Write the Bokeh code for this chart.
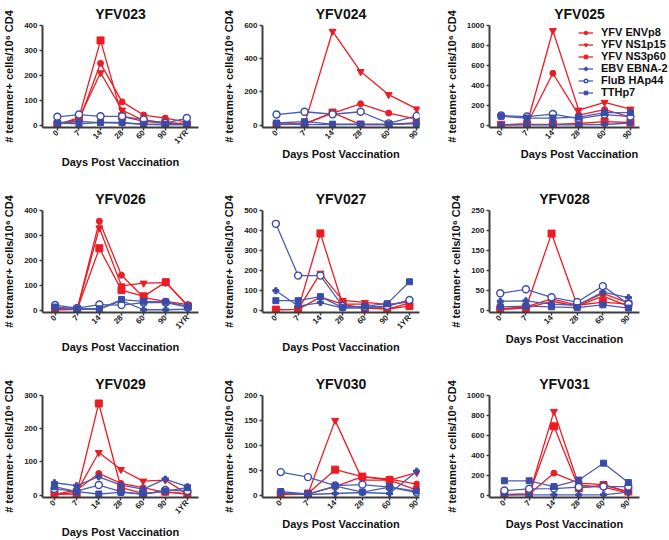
import numpy as np
from bokeh.plotting import figure
from bokeh.layouts import column, row
from bokeh.models import FixedTicker, Legend, LegendItem, Range1d
from bokeh.embed import file_html
from bokeh.resources import INLINE

# ---------------- data ----------------
days_long = ["0", "7", "14", "28", "60", "90", "1YR"]
days_short = ["0", "7", "14", "28", "60", "90"]
series_names = ["YFV ENVp8", "YFV NS1p15", "YFV NS3p60", "EBV EBNA-2", "FluB HAp44", "TTHp7"]

donors = ["YFV023", "YFV024", "YFV025", "YFV026", "YFV027", "YFV028", "YFV029", "YFV030", "YFV031"]
y_max = [400, 600, 1000, 400, 500, 250, 300, 200, 1000]
y_step = [100, 200, 200, 100, 100, 50, 100, 50, 200]

yfv023_env = [5, 15, 248, 93, 40, 28, 12]
yfv023_ns1 = [2, 25, 210, 60, 18, 10, 5]
yfv023_ns3 = [2, 30, 340, 35, 15, 8, 3]
yfv023_ebv = [10, 15, 10, 8, 3, 2, 2]
yfv023_flu = [33, 42, 35, 35, 22, 8, 28]
yfv023_tt = [8, 5, 10, 10, 3, 2, 2]

yfv024_env = [3, 8, 72, 128, 72, 35]
yfv024_ns1 = [5, 5, 565, 322, 183, 97]
yfv024_ns3 = [2, 5, 75, 2, 3, 15]
yfv024_ebv = [5, 3, 2, 3, 2, 8]
yfv024_flu = [63, 80, 65, 80, 10, 55]
yfv024_tt = [12, 20, 5, 5, 5, 10]

yfv025_env = [2, 8, 520, 100, 155, 80]
yfv025_ns1 = [2, 10, 950, 150, 228, 160]
yfv025_ns3 = [2, 5, 5, 15, 35, 25]
yfv025_ebv = [2, 2, 2, 2, 5, 20]
yfv025_flu = [95, 85, 110, 65, 105, 85]
yfv025_tt = [88, 70, 70, 80, 125, 125]

yfv026_env = [2, 3, 357, 140, 50, 35, 22]
yfv026_ns1 = [2, 3, 330, 97, 108, 110, 18]
yfv026_ns3 = [2, 3, 248, 80, 55, 112, 15]
yfv026_ebv = [8, 3, 3, 38, 1, 1, 3]
yfv026_flu = [20, 8, 22, 20, 30, 30, 12]
yfv026_tt = [12, 5, 5, 42, 35, 33, 15]

yfv027_env = [2, 3, 65, 30, 30, 5, 35]
yfv027_ns1 = [2, 3, 185, 48, 38, 28, 40]
yfv027_ns3 = [2, 3, 385, 28, 10, 5, 20]
yfv027_ebv = [97, 20, 37, 10, 10, 20, 50]
yfv027_flu = [433, 173, 173, 20, 15, 20, 50]
yfv027_tt = [47, 47, 67, 12, 20, 32, 142]

yfv028_env = [3, 8, 28, 12, 42, 18]
yfv028_ns1 = [2, 5, 22, 10, 35, 10]
yfv028_ns3 = [2, 5, 192, 12, 20, 15]
yfv028_ebv = [22, 23, 15, 12, 45, 31]
yfv028_flu = [42, 52, 32, 20, 60, 15]
yfv028_tt = [8, 10, 8, 6, 13, 5]

yfv029_env = [2, 15, 65, 35, 22, 8, 5]
yfv029_ns1 = [2, 8, 128, 77, 42, 45, 3]
yfv029_ns3 = [2, 3, 276, 22, 5, 10, 2]
yfv029_ebv = [37, 28, 55, 30, 18, 48, 25]
yfv029_flu = [18, 12, 30, 10, 2, 15, 12]
yfv029_tt = [25, 10, 3, 8, 3, 12, 22]

yfv030_env = [2, 2, 17, 37, 32, 22]
yfv030_ns1 = [2, 2, 150, 30, 30, 45]
yfv030_ns3 = [2, 3, 51, 37, 30, 10]
yfv030_ebv = [5, 1, 3, 5, 3, 48]
yfv030_flu = [46, 36, 19, 21, 16, 5]
yfv030_tt = [7, 2, 18, 6, 16, 8]

yfv031_env = [2, 8, 220, 120, 105, 30]
yfv031_ns1 = [3, 5, 840, 100, 80, 20]
yfv031_ns3 = [5, 10, 690, 70, 100, 35]
yfv031_ebv = [2, 2, 2, 2, 2, 30]
yfv031_flu = [45, 62, 65, 80, 85, 85]
yfv031_tt = [143, 143, 85, 150, 320, 125]

panel_data = [
    (days_long, [yfv023_env, yfv023_ns1, yfv023_ns3, yfv023_ebv, yfv023_flu, yfv023_tt]),
    (days_short, [yfv024_env, yfv024_ns1, yfv024_ns3, yfv024_ebv, yfv024_flu, yfv024_tt]),
    (days_short, [yfv025_env, yfv025_ns1, yfv025_ns3, yfv025_ebv, yfv025_flu, yfv025_tt]),
    (days_long, [yfv026_env, yfv026_ns1, yfv026_ns3, yfv026_ebv, yfv026_flu, yfv026_tt]),
    (days_long, [yfv027_env, yfv027_ns1, yfv027_ns3, yfv027_ebv, yfv027_flu, yfv027_tt]),
    (days_short, [yfv028_env, yfv028_ns1, yfv028_ns3, yfv028_ebv, yfv028_flu, yfv028_tt]),
    (days_long, [yfv029_env, yfv029_ns1, yfv029_ns3, yfv029_ebv, yfv029_flu, yfv029_tt]),
    (days_short, [yfv030_env, yfv030_ns1, yfv030_ns3, yfv030_ebv, yfv030_flu, yfv030_tt]),
    (days_short, [yfv031_env, yfv031_ns1, yfv031_ns3, yfv031_ebv, yfv031_flu, yfv031_tt]),
]

# ---------------- style / layout ----------------
FONT = "Liberation Sans"
RED = "#EC1C24"
BLUE = "#3A4CA8"
BLUE_LINE = "#4A5DB5"
AXIS = "#3C3C3C"

styles = [
    dict(marker="circle", size=6, color=RED, fill=RED, lc=RED),
    dict(marker="inverted_triangle", size=7, color=RED, fill=RED, lc=RED),
    dict(marker="square", size=7, color=RED, fill=RED, lc=RED),
    dict(marker="plus", size=6, color=BLUE, fill=BLUE, lc=BLUE_LINE),
    dict(marker="circle", size=7, color=BLUE, fill="white", lc=BLUE_LINE),
    dict(marker="square", size=6, color=BLUE, fill=BLUE, lc=BLUE_LINE),
]

col_w = [220, 220, 229]
col_left = [42, 42, 49]
col_frame = [156, 157, 150]
row_h = [185, 185, 170]
TOP = 24
FRAME_H = 103
x_pads = [(0.69, 0.54), (0.5, 0.1), (0.45, 0.35),
          (0.57, 0.48), (0.6, 0.45), (0.42, 0.43),
          (0.54, 0.5), (0.67, 0.1), (0.6, 0.45)]
LEGEND_PANEL = 2

figs = []
for i, name in enumerate(donors):
    r, c = divmod(i, 3)
    labels, vals = panel_data[i]
    n = len(labels)
    xs = list(range(n))
    pl, pr = x_pads[i]
    ymax = y_max[i]
    H = row_h[r]
    x_lo, x_hi = -pl, n - 1 + pr
    frame_w = col_frame[c]
    right_border = col_w[c] - col_left[c] - frame_w
    x_end = x_hi
    if i == LEGEND_PANEL:
        # widen the frame so the legend (which overhangs the axis) is not clipped
        full_w = col_w[c] - col_left[c]
        x_end = x_lo + (x_hi - x_lo) * full_w / frame_w
        right_border = 0
    p = figure(width=col_w[c], height=H, output_backend="svg", toolbar_location=None,
               x_range=Range1d(x_lo, x_end), y_range=Range1d(-0.025 * ymax, ymax),
               min_border_left=col_left[c], min_border_top=TOP,
               min_border_bottom=H - TOP - FRAME_H,
               min_border_right=right_border,
               title=name)
    p.title.text_font = FONT
    p.title.text_font_size = "14px"
    p.title.text_font_style = "bold"
    p.title.text_color = "#111111"
    p.title.align = "center"
    p.title.standoff = 7
    p.title.offset = 0
    p.outline_line_color = None
    p.xgrid.visible = False
    p.ygrid.visible = False
    p.background_fill_color = "white"
    p.border_fill_color = "white"

    for ax in (p.xaxis[0], p.yaxis[0]):
        ax.axis_line_color = AXIS
        ax.axis_line_width = 2
        ax.major_tick_line_color = AXIS
        ax.major_tick_line_width = 1.5
        ax.major_tick_in = 0
        ax.major_tick_out = 3
        ax.minor_tick_line_color = None
        ax.major_label_text_font = FONT
        ax.major_label_text_font_size = "8px"
        ax.major_label_text_font_style = "bold"
        ax.major_label_text_color = "#222222"
        ax.major_label_standoff = 2
        ax.axis_label_text_font = FONT
        ax.axis_label_text_font_size = "11px"
        ax.axis_label_text_font_style = "bold"
        ax.axis_label_text_color = "#111111"
        ax.axis_label_standoff = 6
    p.xaxis.bounds = (x_lo, x_hi)
    p.yaxis.ticker = FixedTicker(ticks=list(range(0, ymax + 1, y_step[i])))
    p.xaxis.ticker = FixedTicker(ticks=xs)
    p.xaxis.major_label_overrides = {k: lab for k, lab in enumerate(labels)}
    p.xaxis.major_label_orientation = np.pi / 4
    p.xaxis.major_label_standoff = 1
    p.xaxis.axis_label = "Days Post Vaccination"
    p.xaxis.axis_label_standoff = 4
    p.yaxis.axis_label = "# tetramer+ cells/10\u2076 CD4"

    items = []
    for s, (st, ys) in enumerate(zip(styles, vals)):
        lr = p.line(xs, ys, line_color=st["lc"], line_width=1.3)
        sr = p.scatter(xs, ys, marker=st["marker"], size=st["size"],
                       line_color=st["color"], fill_color=st["fill"],
                       line_width=1.4 if st["fill"] == "white" else 1)
        items.append(LegendItem(label=series_names[s], renderers=[lr, sr]))
    if i == LEGEND_PANEL:
        leg = Legend(items=items, location=(89, 29), padding=0, margin=0, spacing=0,
                     glyph_width=15, glyph_height=9, label_height=9, label_standoff=8,
                     label_text_font=FONT, label_text_font_size="11px",
                     label_text_line_height=0.8,
                     label_text_font_style="bold", label_text_color="#111111",
                     background_fill_alpha=0, border_line_color=None)
        p.add_layout(leg)
    figs.append(p)

layout = column(row(*figs[0:3], spacing=0), row(*figs[3:6], spacing=0),
                row(*figs[6:9], spacing=0), spacing=0)

open("out.html", "w").write(file_html(layout, INLINE))
